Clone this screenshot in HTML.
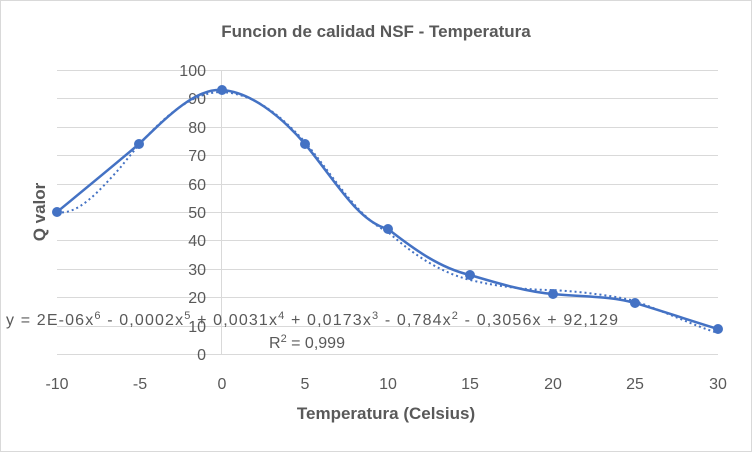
<!DOCTYPE html>
<html><head><meta charset="utf-8"><style>
html,body{margin:0;padding:0;background:#fff;}
svg{display:block;font-family:"Liberation Sans",sans-serif;}
</style></head><body>
<svg width="752" height="452" viewBox="0 0 752 452">
<rect x="0.5" y="0.5" width="751" height="451" fill="#fff" stroke="#d9d9d9"/>
<text x="376" y="37" text-anchor="middle" font-size="17" font-weight="bold" fill="#595959">Funcion de calidad NSF - Temperatura</text>
<g stroke="#d9d9d9" stroke-width="1">
<line x1="57" x2="718" y1="70.5" y2="70.5"/>
<line x1="57" x2="718" y1="98.5" y2="98.5"/>
<line x1="57" x2="718" y1="127.5" y2="127.5"/>
<line x1="57" x2="718" y1="155.5" y2="155.5"/>
<line x1="57" x2="718" y1="184.5" y2="184.5"/>
<line x1="57" x2="718" y1="212.5" y2="212.5"/>
<line x1="57" x2="718" y1="240.5" y2="240.5"/>
<line x1="57" x2="718" y1="269.5" y2="269.5"/>
<line x1="57" x2="718" y1="297.5" y2="297.5"/>
<line x1="57" x2="718" y1="326.5" y2="326.5"/>
<line x1="57" x2="718" y1="354.5" y2="354.5"/>
<line x1="221.5" x2="221.5" y1="70" y2="354"/>
</g>
<g font-size="16" fill="#595959" text-anchor="end">
<text x="206" y="76">100</text><text x="206" y="104">90</text><text x="206" y="133">80</text>
<text x="206" y="161">70</text><text x="206" y="190">60</text><text x="206" y="218">50</text>
<text x="206" y="246">40</text><text x="206" y="275">30</text><text x="206" y="303">20</text>
<text x="206" y="332">10</text><text x="206" y="360">0</text>
</g>
<g font-size="16" fill="#595959" text-anchor="middle">
<text x="57" y="389">-10</text><text x="140" y="389">-5</text><text x="222" y="389">0</text>
<text x="305" y="389">5</text><text x="388" y="389">10</text><text x="470" y="389">15</text>
<text x="553" y="389">20</text><text x="635" y="389">25</text><text x="718" y="389">30</text>
</g>
<text x="386" y="419" text-anchor="middle" font-size="17" font-weight="bold" fill="#595959">Temperatura (Celsius)</text>
<text transform="translate(45,212) rotate(-90)" text-anchor="middle" font-size="17" font-weight="bold" fill="#595959">Q valor</text>
<path d="M57,212 C78,216 100,190 120,168 C150,130 185,92 222,92 C255,94 280,115 305,142 C335,178 358,218 388,232 C415,256 440,272 470,280 C500,287 528,290 553,290 C585,292 615,296 635,301 C665,312 695,326 718,333" fill="none" stroke="#4472c4" stroke-width="2" stroke-dasharray="2,3"/>
<path d="M57,212 C85,189 112,167 139,144 C166,118 195,88 222,90 C250,92 280,115 305,144 C335,180 358,222 388,229 C415,250 440,268 470,275 C500,284 528,292 553,294 C585,297 610,296 635,303 C665,312 695,322 718,329" fill="none" stroke="#4472c4" stroke-width="2.5"/>
<g fill="#4472c4">
<circle cx="57" cy="212" r="5"/><circle cx="139" cy="144" r="5"/><circle cx="222" cy="90" r="5"/>
<circle cx="305" cy="144" r="5"/><circle cx="388" cy="229" r="5"/><circle cx="470" cy="275" r="5"/>
<circle cx="553" cy="294" r="5"/><circle cx="635" cy="303" r="5"/><circle cx="718" cy="329" r="5"/>
</g>
<text x="6" y="325" font-size="16" fill="#595959" textLength="612" lengthAdjust="spacing">y = 2E-06x<tspan font-size="11" dy="-6">6</tspan><tspan dy="6"> - 0,0002x</tspan><tspan font-size="11" dy="-6">5</tspan><tspan dy="6"> + 0,0031x</tspan><tspan font-size="11" dy="-6">4</tspan><tspan dy="6"> + 0,0173x</tspan><tspan font-size="11" dy="-6">3</tspan><tspan dy="6"> - 0,784x</tspan><tspan font-size="11" dy="-6">2</tspan><tspan dy="6"> - 0,3056x + 92,129</tspan></text>
<text x="269" y="348" font-size="16" fill="#595959">R<tspan font-size="11" dy="-6">2</tspan><tspan dy="6"> = 0,999</tspan></text>
</svg>
</body></html>
